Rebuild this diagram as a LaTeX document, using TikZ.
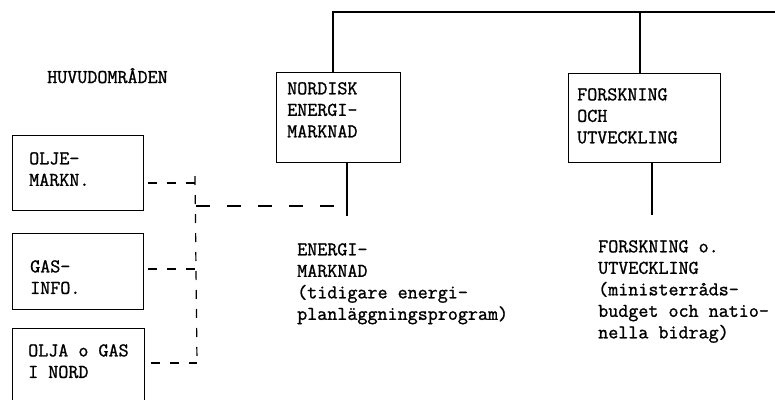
\documentclass[tikz,border=0pt]{standalone}
\usepackage{fontspec}
\setmonofont{Latin Modern Mono}[FakeBold=1.2]
\begin{document}
\begin{tikzpicture}[x=1pt, y=-1pt,
    ruta/.style={draw, line width=1.3pt, inner sep=0pt, anchor=north west},
    txt/.style={font=\ttfamily\fontsize{19.5}{21.5}\selectfont, align=left, inner sep=0pt, anchor=north west},
    linje/.style={line width=1.3pt},
    streck/.style={line width=1.2pt, dash pattern=on 9pt off 10pt}]
    \clip (0,0) rectangle (775,399);
    \fill[white] (0,0) rectangle (775,399);

    % Rutor
    \node[ruta, minimum width=124pt, minimum height=90pt] (nordisk) at (276,72) {};
    \node[ruta, minimum width=152pt, minimum height=89pt] (forsk) at (568,73) {};
    \node[ruta, minimum width=131pt, minimum height=75pt] (olje) at (12,135) {};
    \node[ruta, minimum width=131pt, minimum height=76pt] (gas) at (12,233) {};
    \node[ruta, minimum width=132pt, minimum height=90pt] (oljanord) at (12,328) {};

    % Texter
    \node[txt, anchor=base west] (huvud) at (47,83) {HUVUDOMRÅDEN};
    \node[txt] (nordtxt) at ([shift={(11,10)}]nordisk.north west) {NORDISK\\ENERGI-\\MARKNAD};
    \node[txt] (forsktxt) at ([shift={(9,15)}]forsk.north west) {FORSKNING\\OCH\\UTVECKLING};
    \node[txt] (oljetxt) at ([shift={(17,17)}]olje.north west) {OLJE-\\MARKN.};
    \node[txt] (gastxt) at ([shift={(18,27)}]gas.north west) {GAS-\\INFO.};
    \node[txt] (oljanordtxt) at ([shift={(16,16)}]oljanord.north west) {OLJA o GAS\\I NORD};
    \node[txt] (energi) at (297,243) {ENERGI-\\MARKNAD\\(tidigare energi-\\planläggningsprogram)};
    \node[txt] (utveckling) at (598,240) {FORSKNING o.\\UTVECKLING\\(ministerråds-\\budget och natio-\\nella bidrag)};

    % Linjer
    \coordinate (topp) at (333,12);
    \coordinate (hoger) at (775,12);
    \coordinate (forsktopp) at (640,12);
    \coordinate (nordfot) at (347,216);
    \coordinate (forskfot) at (652,215);
    \draw[linje] (nordisk.north -| topp) -- (topp) -- (hoger);
    \draw[linje] (forsk.north -| forsktopp) -- (forsktopp);
    \draw[linje] (nordisk.south -| nordfot) -- (nordfot);
    \draw[linje] (forsk.south -| forskfot) -- (forskfot);

    % Streckade
    \coordinate (j1) at (195,183);
    \coordinate (j2) at (195,269);
    \coordinate (j3) at (197,363);
    \coordinate (j4) at (196,206);
    \draw[streck] ([xshift=4pt]olje.east |- j1) -- (j1);
    \draw[streck] ([xshift=4pt]gas.east |- j2) -- (j2);
    \draw[streck] ([xshift=6pt]oljanord.east |- j3) -- (j3);
    \draw[streck] ([yshift=7pt]j1) -- (j3);
    \draw[streck, dash pattern=on 14pt off 17pt] (j4) -- (j4 -| nordfot);
\end{tikzpicture}
\end{document}
